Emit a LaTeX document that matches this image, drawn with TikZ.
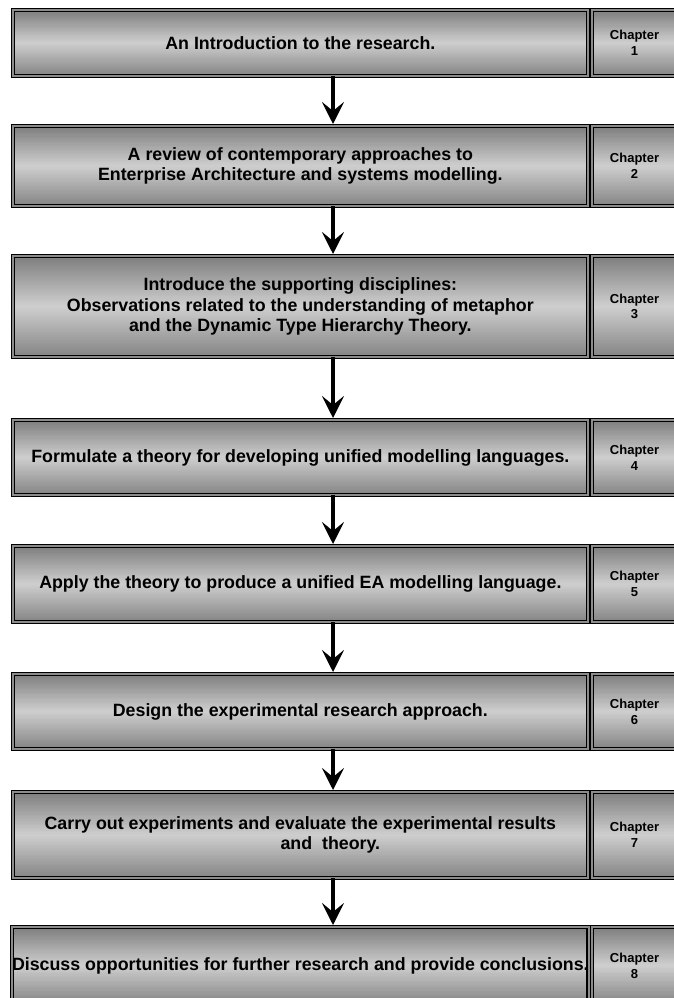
\documentclass[tikz,border=0pt]{standalone}
\usepackage{fontspec}
\setmainfont{Liberation Sans}
\usetikzlibrary{arrows.meta}

% vertical grey gradient (dark - light - dark) built from thin strips
% #1 left, #2 top, #3 right, #4 bottom
\newcommand\greyfill[4]{%
  \foreach \k in {0,...,59}{%
    \pgfmathsetmacro\gpos{(\k+0.5)/60}%
    \pgfmathsetmacro\gpct{\gpos<0.5 ? 51-64*\gpos : 19+58*(\gpos-0.5)}%
    \pgfmathsetmacro\gtop{(#2)+((#4)-(#2))*\k/60}%
    \pgfmathsetmacro\gbot{min((#2)+((#4)-(#2))*(\k+1)/60+0.4,(#4))}%
    \fill[black!\gpct] (#1,\gtop) rectangle (#3,\gbot);
  }%
}

% one row of the flow: a wide stage box and its chapter tab
% #1 name, #2 outer top, #3 outer bottom, #4 stage text, #5 chapter number
\newcommand\stagerow[5]{%
  \greyfill{12.9}{#2+2.2}{587.8}{#3-2.2}
  \greyfill{592.2}{#2+2.2}{676.8}{#3-2.2}
  \node[panel, minimum width=574.9pt, minimum height={(#3-#2-4.4)*1pt}]
    (#1) at (300.35,{(#2+#3)/2}) {#4};
  \node[chaptab, minimum width=84.6pt, minimum height={(#3-#2-4.4)*1pt}]
    (#1c) at (634.5,{(#2+#3)/2}) {Chapter\\#5};
}

\begin{document}
\begin{tikzpicture}[x=1pt,y=-1pt,
  boxlook/.style={draw=black, line width=1.2pt, double=black!45,
    double distance=2pt, outer sep=0pt, inner sep=0pt, align=center},
  panel/.style={boxlook, font=\bfseries\fontsize{17.8}{20.5}\selectfont},
  chaptab/.style={boxlook, font=\bfseries\fontsize{13}{15.7}\selectfont},
  flow/.style={line width=4.5pt, black,
    -{Stealth[length=22pt, width=22pt, inset=9pt]}}
]
\useasboundingbox (0,0) rectangle (673,998);

\stagerow{s1}{8}{78}{An Introduction to the research.}{1}
\stagerow{s2}{124}{208}{A review of contemporary approaches to\\Enterprise Architecture and systems modelling.}{2}
\stagerow{s3}{254}{359}{Introduce the supporting disciplines:\\Observations related to the understanding of metaphor\\and the Dynamic Type Hierarchy Theory.}{3}
\stagerow{s4}{418}{497}{Formulate a theory for developing unified modelling languages.}{4}
\stagerow{s5}{544}{624}{Apply the theory to produce a unified EA modelling language.}{5}
\stagerow{s6}{672}{751}{Design the experimental research approach.}{6}
\stagerow{s7}{790}{880}{Carry out experiments and evaluate the experimental results\\\hspace*{60pt}and\ \ theory.}{7}
\stagerow{s8}{925}{1006}{Discuss opportunities for further research and provide conclusions.}{8}

% connectors run down the right half of the stage boxes
\foreach \a/\b in {s1/s2,s2/s3,s3/s4,s4/s5,s5/s6,s6/s7,s7/s8}
  \draw[flow] ([xshift=32.65pt]\a.south) -- ([xshift=32.65pt,yshift=2.2pt]\b.north);
\end{tikzpicture}
\end{document}
